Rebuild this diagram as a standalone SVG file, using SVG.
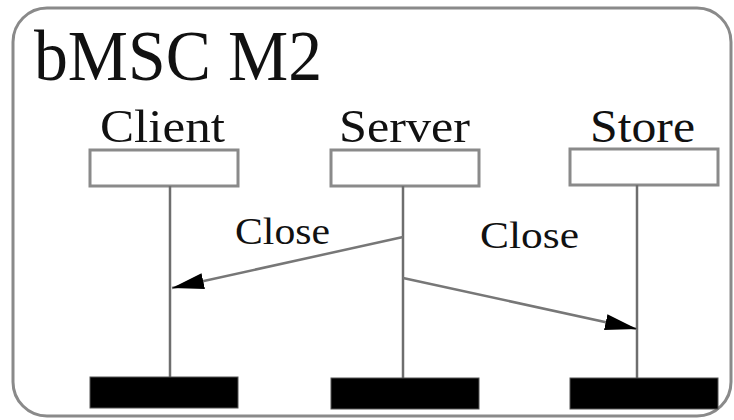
<svg xmlns="http://www.w3.org/2000/svg" width="734" height="420" viewBox="0 0 734 420">
  <style>
    .frame { fill: #ffffff; stroke: #8a8a8a; stroke-width: 3; }
    .head { fill: #ffffff; stroke: #8a8a8a; stroke-width: 3; }
    .foot { fill: #000000; stroke: #555555; stroke-width: 1; }
    .life { stroke: #6e6e6e; stroke-width: 2.5; fill: none; }
    .msg { stroke: #777777; stroke-width: 2.5; fill: none; marker-end: url(#arrow); }
    .t { font-family: "Liberation Serif", "Times New Roman", serif; fill: #111111; }
  </style>
  <defs>
    <marker id="arrow" markerUnits="userSpaceOnUse" markerWidth="34" markerHeight="20" viewBox="0 0 34 20" refX="32" refY="10" orient="auto">
      <path d="M0,2 L32,10 L0,18 Z" fill="#000000"/>
    </marker>
  </defs>

  <rect class="frame" x="13" y="8" width="718" height="408" rx="34" ry="34"/>
  <text class="t" x="34" y="80" font-size="72" textLength="288" lengthAdjust="spacingAndGlyphs">bMSC M2</text>

  <g id="client">
    <text class="t" x="100" y="142" font-size="46" textLength="125" lengthAdjust="spacingAndGlyphs">Client</text>
    <rect class="head" x="90" y="150" width="148" height="36"/>
    <line class="life" x1="170" y1="186" x2="170" y2="378"/>
    <rect class="foot" x="90" y="377" width="148" height="31"/>
  </g>

  <g id="server">
    <text class="t" x="339" y="142" font-size="46" textLength="131" lengthAdjust="spacingAndGlyphs">Server</text>
    <rect class="head" x="331" y="150" width="148" height="36"/>
    <line class="life" x1="403" y1="186" x2="403" y2="378"/>
    <rect class="foot" x="331" y="378" width="148" height="31"/>
  </g>

  <g id="store">
    <text class="t" x="590" y="142" font-size="46" textLength="105" lengthAdjust="spacingAndGlyphs">Store</text>
    <rect class="head" x="570" y="149" width="148" height="36"/>
    <line class="life" x1="637" y1="185" x2="637" y2="378"/>
    <rect class="foot" x="570" y="378" width="148" height="31"/>
  </g>

  <g id="connectors">
    <line class="msg" x1="403" y1="237" x2="172" y2="288"/>
    <text class="t" x="235" y="244" font-size="38" textLength="95" lengthAdjust="spacingAndGlyphs">Close</text>
    <line class="msg" x1="403" y1="278" x2="637" y2="329"/>
    <text class="t" x="480" y="248" font-size="38" textLength="99" lengthAdjust="spacingAndGlyphs">Close</text>
  </g>
</svg>
